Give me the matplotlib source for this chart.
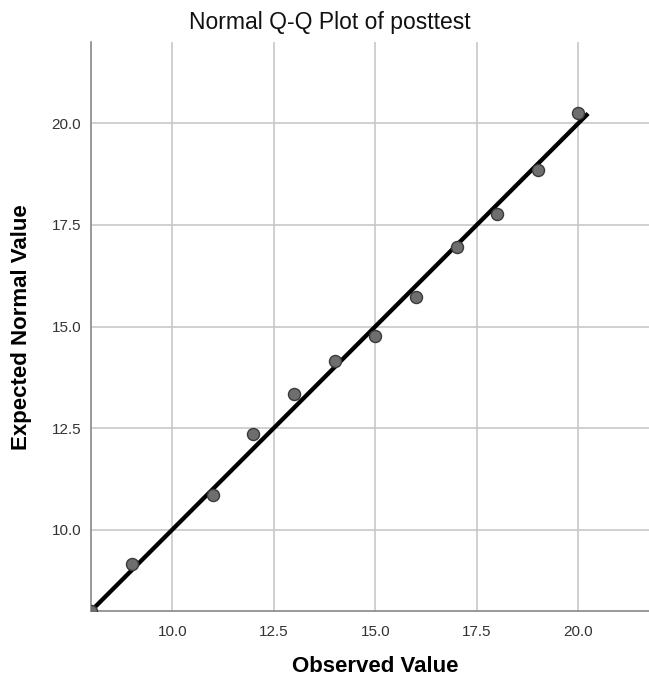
import matplotlib.pyplot as plt
import numpy as np

# Observed posttest scores and their expected normal values
observed = [8, 9, 11, 12, 13, 14, 15, 16, 17, 18, 19, 20]
expected = [8.0, 9.15, 10.86, 12.36, 13.34, 14.15, 14.77, 15.72, 16.96, 17.76, 18.85, 20.25]

# Reference line endpoints (y = x)
ref_line = [8.0, 20.24]

x_ticks = [10.0, 12.5, 15.0, 17.5, 20.0]
y_ticks = [10.0, 12.5, 15.0, 17.5, 20.0]

plt.rcParams["font.family"] = ["Liberation Sans", "DejaVu Sans"]

fig = plt.figure(figsize=(6.49, 6.79), dpi=100)
ax = fig.add_axes([91 / 649, 1 - 611 / 679, 558 / 649, 569 / 679])

ax.set_xlim(8.0, 21.74)
ax.set_ylim(8.0, 22.0)

ax.set_xticks(x_ticks)
ax.set_yticks(y_ticks)
ax.set_xticklabels([f"{t:.1f}" for t in x_ticks])
ax.set_yticklabels([f"{t:.1f}" for t in y_ticks])
ax.tick_params(length=0, labelsize=11, colors="#333333")
ax.tick_params(axis="x", pad=10)
ax.tick_params(axis="y", pad=7)

ax.grid(True, color="#c8c8c8", linewidth=1.2)
ax.set_axisbelow(True)

for side in ["top", "right"]:
    ax.spines[side].set_visible(False)
for side in ["left", "bottom"]:
    ax.spines[side].set_color("#888888")
    ax.spines[side].set_linewidth(1.2)

ax.plot(ref_line, ref_line, color="black", linewidth=3.1, solid_capstyle="butt", zorder=3)
ax.scatter(observed, expected, s=75, color="#6e6e6e", edgecolor="#3a3a3a",
           linewidth=1, zorder=4, clip_on=True)

ax.set_xlabel("Observed Value", fontsize=16, fontweight="bold", va="center")
ax.set_ylabel("Expected Normal Value", fontsize=16, fontweight="bold", va="center")
# label positions in axes fraction
ax.xaxis.set_label_coords((375 - 91) / 558, -(667 - 611) / 569)
ax.yaxis.set_label_coords(-(91 - 22) / 558, (611 - 327) / 569)

fig.text(330 / 649, 1 - 23 / 679, "Normal Q-Q Plot of posttest", fontsize=16.5,
         ha="center", va="center", color="#111111")

fig.savefig("out.png", dpi=100)
